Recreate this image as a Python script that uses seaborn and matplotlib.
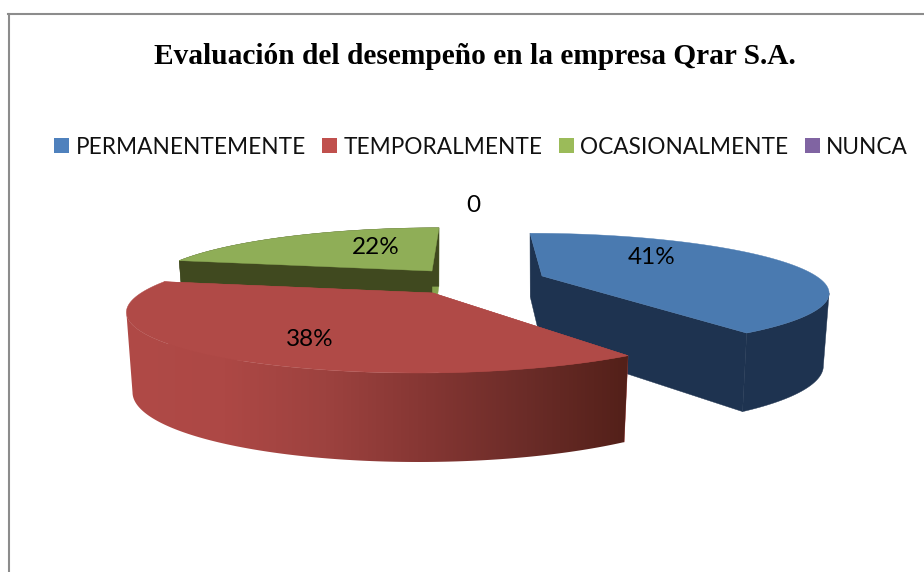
import numpy as np
import seaborn as sns
import matplotlib
matplotlib.use('Agg')
import matplotlib.pyplot as plt
from matplotlib.patches import Patch, Polygon

title = 'Evaluación del desempeño en la empresa Qrar S.A.'
labels = ['PERMANENTEMENTE', 'TEMPORALMENTE', 'OCASIONALMENTE', 'NUNCA']
values = [41, 38, 22, 0]
legend_colors = ['#4f81bd', '#c0504d', '#9bbb59', '#8064a2']
top_colors = ['#4a7ab0', '#b04a47', '#8fae57']
wall_colors = ['#1e3350', '#b04a47', '#40491f']
side_colors = ['#1e3350', '#b04a47', '#86a34e']

# apex of each exploded slice, size, lean and wall height (pixels)
apex_x = [542, 433, 432]
apex_y = [276, 293, 271]
radius = [274, 292, 273]
scale_y = [0.91, 1.0, 0.92]
lean = [-12, 15, 7]
depth = [70, 77, 65]
label_xy = [(652, 257), (310, 340), (376, 248), (473, 205)]

persp = 0.26
ry = 59.2


def project(i, t, bottom=False):
    s, c = np.sin(t), np.cos(t)
    d = 1 + persp * c
    x = radius[i] * s / d + lean[i] * c
    y = -ry * scale_y[i] * c / d
    if bottom:
        x = x * 0.98
        y = y * 1.15 + depth[i]
    return apex_x[i] + x, apex_y[i] + y


sns.set_theme(style='white')
fig = plt.figure(figsize=(9.24, 5.72), dpi=100)
ax = fig.add_axes([8.5 / 924, 0, 1 - 8.5 / 924, 1 - 14 / 572])
ax.set_xticks([])
ax.set_yticks([])
for name in ['right', 'bottom']:
    ax.spines[name].set_visible(False)
for name in ['left', 'top']:
    ax.spines[name].set_color('#8c8c8c')
    ax.spines[name].set_linewidth(1.5)

fractions = np.array(values) / sum(values)
ends = np.cumsum(fractions) * 2 * np.pi
starts = ends - fractions * 2 * np.pi
red_shades = sns.blend_palette(['#b04a47', '#ad4845', '#9d423f', '#853633', '#6b2c28', '#532019'], 256)

for z, i in enumerate([2, 0, 1]):
    t = np.linspace(starts[i], ends[i], 200)
    tx, ty = project(i, t)
    px, py = apex_x[i], apex_y[i]
    pbx, pby = px, py + depth[i]
    bx0, by0 = project(i, t[0], bottom=True)
    bx1, by1 = project(i, t[-1], bottom=True)

    # radial faces, then outer wall, then the top
    ax.fill([tx[-1], px, pbx, bx1], [ty[-1], py, pby, by1], color=side_colors[i], lw=0.3, zorder=z * 3)
    ax.fill([tx[0], px, pbx, bx0], [ty[0], py, pby, by0], color=wall_colors[i], lw=0.3, zorder=z * 3)

    # wall only runs along the front of the arc, up to the silhouette point
    if i == 0:
        front = t[np.argmax(tx):]
    elif i == 1:
        front = t[:np.argmin(tx) + 1]
    else:
        front = t
    fx, fy = project(i, front)
    bx, by = project(i, front, bottom=True)
    wx = np.r_[fx, bx[::-1]]
    wy = np.r_[fy, by[::-1]]
    if i == 1:
        grad = np.array(red_shades)[None, :, :]
        im = ax.imshow(grad, extent=(wx.min() - 2, wx.max(), 480, 260), aspect='auto', zorder=z * 3 + 1)
        im.set_clip_path(Polygon(np.c_[wx, wy], transform=ax.transData))
    else:
        ax.fill(wx, wy, color=wall_colors[i], lw=0.3, zorder=z * 3 + 1)
    ax.fill(np.r_[px, tx], np.r_[py, ty], color=top_colors[i], lw=0.3, zorder=z * 3 + 2)

ax.set_xlim(8.5, 924)
ax.set_ylim(572, 14)

for v, (lx, ly) in zip(values, label_xy):
    txt = f'{v}%' if v > 0 else str(v)
    ax.text(lx, ly, txt, ha='center', va='center', fontsize=17.5, family='Lato', color='black', zorder=20)

ax.text(474.5, 56, title, ha='center', va='center', fontsize=21.2, fontweight='bold',
        family='Liberation Serif', color='black')

handles = [Patch(facecolor=c, edgecolor='none') for c in legend_colors]
ax.legend(handles, labels, ncol=4, frameon=False, loc='center left',
          bbox_to_anchor=((54 - 8.5) / 915.5, (572 - 147) / 558), borderaxespad=0, borderpad=0,
          handlelength=0.67, handleheight=0.67, handletextpad=0.28, columnspacing=0.72,
          prop={'family': 'Lato', 'size': 16.3}, labelcolor='#111111')

fig.savefig('out.png', dpi=100)
